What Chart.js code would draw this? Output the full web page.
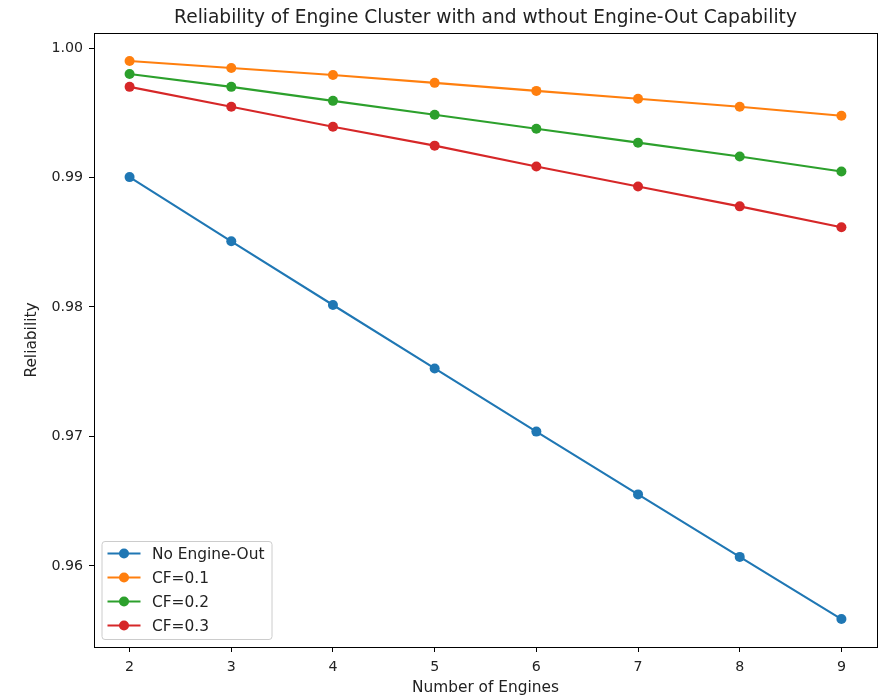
<!DOCTYPE html>
<html>
<head>
<meta charset="utf-8">
<style>
  html, body { margin: 0; padding: 0; background: #fff; }
  #wrap { width: 882px; height: 698px; }
</style>
</head>
<body>
<div id="wrap"><canvas id="myChart" width="882" height="698"></canvas></div>
<script src="https://cdn.jsdelivr.net/npm/chart.js"></script>
<script>
    // engine counts and reliability per case
    const engines = [2, 3, 4, 5, 6, 7, 8, 9];
    const noEngineOut = [0.99003, 0.98507, 0.98015, 0.97525, 0.97037, 0.96552, 0.96069, 0.95589];
    const cf01 = [0.99900, 0.99846, 0.99792, 0.99731, 0.99669, 0.99608, 0.99546, 0.99477];
    const cf02 = [0.99800, 0.99700, 0.99592, 0.99485, 0.99377, 0.99269, 0.99162, 0.99046];
    const cf03 = [0.99700, 0.99546, 0.99392, 0.99246, 0.99085, 0.98931, 0.98777, 0.98615];
    const seriesLabels = ['No Engine-Out', 'CF=0.1', 'CF=0.2', 'CF=0.3'];
    const colors = ['#1f77b4', '#ff7f0e', '#2ca02c', '#d62728'];
    const yTicks = [0.96, 0.97, 0.98, 0.99, 1.00];
    const xTicks = [2, 3, 4, 5, 6, 7, 8, 9];

    const FONT = 'DejaVu Sans';
    const TICK_SIZE = 14.2;
    const LABEL_SIZE = 15.4;
    const allSeries = [noEngineOut, cf01, cf02, cf03];

    function makeDataset(values, i) {
        return {
            label: seriesLabels[i],
            data: engines.map((n, k) => ({ x: n, y: values[k] })),
            borderColor: colors[i],
            backgroundColor: colors[i],
            borderWidth: 2.1,
            pointRadius: 5,
            pointHoverRadius: 5,
            pointBorderWidth: 0,
            tension: 0,
            order: 3 - i
        };
    }

    // frame around the plot + legend box in the lower-left corner
    const frameAndLegend = {
        id: 'frameAndLegend',
        afterDatasetsDraw(chart) {
            const ctx = chart.ctx;
            const a = chart.chartArea;
            ctx.save();
            ctx.strokeStyle = '#000';
            ctx.lineWidth = 1;
            ctx.strokeRect(Math.round(a.left) + 0.5, Math.round(a.top) + 0.5,
                Math.round(a.right - a.left), Math.round(a.bottom - a.top));

            const bx = a.left + 7.5, by = a.bottom - 106, bw = 170, bh = 98;
            ctx.beginPath();
            ctx.roundRect(bx + 0.5, by + 0.5, bw, bh, 3);
            ctx.fillStyle = 'rgba(255,255,255,0.8)';
            ctx.fill();
            ctx.strokeStyle = '#cccccc';
            ctx.stroke();

            ctx.font = LABEL_SIZE + 'px "' + FONT + '"';
            ctx.textBaseline = 'middle';
            ctx.textAlign = 'left';
            chart.data.datasets.forEach((ds, i) => {
                const y = by + 12.5 + i * 24;
                ctx.strokeStyle = ds.borderColor;
                ctx.lineWidth = 2.1;
                ctx.beginPath();
                ctx.moveTo(bx + 6, y);
                ctx.lineTo(bx + 39, y);
                ctx.stroke();
                ctx.fillStyle = ds.backgroundColor;
                ctx.beginPath();
                ctx.arc(bx + 22.5, y, 5, 0, Math.PI * 2);
                ctx.fill();
                ctx.fillStyle = '#222';
                ctx.fillText(ds.label, bx + 50.5, y + 1);
            });
            ctx.restore();
        }
    };

    const ctx = document.getElementById('myChart').getContext('2d');
    const myChart = new Chart(ctx, {
        type: 'line',
        data: { datasets: allSeries.map(makeDataset) },
        options: {
            responsive: false,
            animation: false,
            events: [],
            layout: { padding: { left: 0, right: 5, top: 0, bottom: 0 } },
            plugins: {
                legend: { display: false },
                tooltip: { enabled: false },
                title: {
                    display: true,
                    fullSize: false,
                    text: 'Reliability of Engine Cluster with and wthout Engine-Out Capability',
                    color: '#222',
                    font: { family: FONT, size: 18.6, weight: 'normal' },
                    padding: { top: 7.5, bottom: 3.2 }
                }
            },
            scales: {
                x: {
                    type: 'linear',
                    min: 1.65,
                    max: 9.35,
                    afterBuildTicks: s => { s.ticks = xTicks.map(v => ({ value: v })); },
                    afterFit: s => { s.height = 51; },
                    grid: { drawOnChartArea: false, tickLength: 5, tickColor: '#000', color: '#000' },
                    border: { color: '#000' },
                    ticks: { color: '#222', font: { family: FONT, size: TICK_SIZE }, padding: 7 },
                    title: {
                        display: true, text: 'Number of Engines', color: '#222',
                        font: { family: FONT, size: LABEL_SIZE }, padding: { top: 0, bottom: 0.75 }
                    }
                },
                y: {
                    type: 'linear',
                    min: 0.95373,
                    max: 1.00116,
                    afterBuildTicks: s => { s.ticks = yTicks.map(v => ({ value: v })); },
                    afterFit: s => { s.width = 94; },
                    grid: { drawOnChartArea: false, tickLength: 5, tickColor: '#000', color: '#000' },
                    border: { color: '#000' },
                    ticks: {
                        color: '#222', font: { family: FONT, size: TICK_SIZE }, padding: 6,
                        callback: v => v.toFixed(2)
                    },
                    title: {
                        display: true, text: 'Reliability', color: '#222',
                        font: { family: FONT, size: LABEL_SIZE }, padding: { top: 22.75, bottom: 0 }
                    }
                }
            }
        },
        plugins: [frameAndLegend]
    });
</script>
</body>
</html>
